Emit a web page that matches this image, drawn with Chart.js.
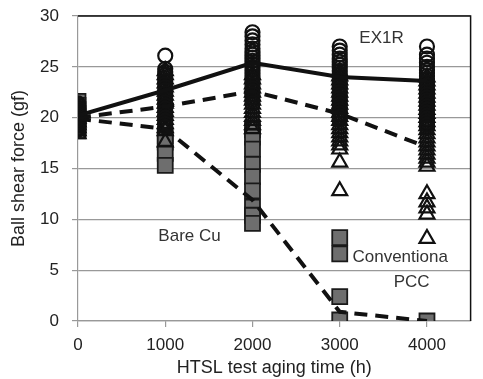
<!DOCTYPE html>
<html>
<head>
<meta charset="utf-8">
<script src="https://cdn.jsdelivr.net/npm/chart.js@4"></script>
<style>
  html, body { margin: 0; padding: 0; background: #fff; }
  .chart-container { position: relative; width: 483px; height: 379px; }
</style>
</head>
<body>
<div class="chart-container">
  <canvas id="chart"></canvas>
</div>
<script>
// aging times (h) and tick labels
const agingHours = [0, 1000, 2000, 3000, 4000];
const yTicks = [0, 5, 10, 15, 20, 25, 30];

// mean lines
const ex1rMean = [20.2, 22.7, 25.4, 24.0, 23.6];
const pccMean = [20.0, 21.1, 22.6, 20.4, 17.1];
const bareCuMean = [19.9, 18.9, 11.9, 0.9, 0];

// individual shear values, one list per aging time
const ex1rForce = [
    [21.4, 21.2, 21.0, 20.8, 20.6, 20.4, 20.2, 20.0, 19.8, 19.6, 19.4, 19.2, 19.0, 18.8],
    [26.1, 24.8, 24.5, 24.2, 23.9, 23.6, 23.3, 23.0, 22.7, 22.4, 22.1, 21.8, 21.5, 21.2, 20.9, 20.6, 20.3, 20.0, 19.7, 19.4, 19.1],
    [28.4, 28.0, 27.6, 27.2, 26.8, 26.5, 26.2, 25.9, 25.6, 25.3, 25.0, 24.7, 24.4, 24.1, 23.8, 23.5, 23.2, 22.9, 22.6, 22.3, 22.0, 21.7, 21.4],
    [27.0, 26.6, 26.2, 25.8, 25.5, 25.2, 24.9, 24.6, 24.3, 24.0, 23.7, 23.4, 23.1, 22.8, 22.5, 22.2, 21.9, 21.6, 21.3, 21.0, 20.7, 20.4, 20.1, 19.8],
    [27.0, 26.2, 25.8, 25.4, 25.0, 24.7, 24.4, 24.1, 23.8, 23.5, 23.2, 22.9, 22.6, 22.3, 22.0, 21.7, 21.4, 21.1, 20.8, 20.5, 20.2, 19.9, 19.6, 19.3, 19.0]
];
const pccForce = [
    [21.1, 20.8, 20.5, 20.2, 19.9, 19.6, 19.3, 19.0, 18.7, 18.4],
    [24.6, 24.2, 23.8, 23.4, 23.0, 22.6, 22.2, 21.8, 21.4, 21.0, 20.6, 20.2, 19.8, 19.4, 19.0, 18.7, 17.6],
    [24.2, 23.8, 23.3, 22.9, 22.5, 22.1, 21.7, 21.3, 20.9, 20.5, 20.1, 19.7, 19.3, 18.9],
    [24.5, 24.1, 23.7, 23.3, 22.9, 22.5, 22.1, 21.7, 21.3, 20.9, 20.5, 20.1, 19.7, 19.3, 18.9, 18.5, 18.1, 17.7, 17.3, 16.9, 15.6, 12.8],
    [24.0, 23.6, 23.2, 22.8, 22.4, 22.0, 21.6, 21.2, 20.8, 20.4, 20.0, 19.6, 19.2, 18.8, 18.4, 18.0, 17.6, 17.2, 16.8, 16.4, 16.0, 15.6, 15.2, 12.5, 11.7, 11.1, 10.5, 8.1]
];
const bareCuForce = [
    [21.6, 21.2, 20.8, 20.4, 20.1, 19.7, 19.3, 19.0, 18.7],
    [18.2, 17.6, 16.5, 15.3],
    [18.8, 18.1, 16.9, 15.4, 14.2, 12.8, 11.2, 10.4, 9.6],
    [8.2, 6.6, 2.4, 0.1],
    [0]
];

const FONT = '"Liberation Sans", Arial, sans-serif';

function toPoints(groups) {
    const pts = [];
    groups.forEach((vals, i) => vals.forEach(v => pts.push({ x: agingHours[i], y: v })));
    return pts;
}
function meanPoints(vals) {
    return vals.map((v, i) => ({ x: agingHours[i], y: v }));
}

// annotations placed in data units
const notes = [
    { text: 'EX1R', x: 3225, y: 27.8 },
    { text: 'Bare Cu', x: 921, y: 8.3 },
    { text: 'Conventiona', x: 3146, y: 6.3 },
    { text: 'PCC', x: 3618, y: 3.8 }
];

const framePlugin = {
    id: 'frame',
    afterDatasetsDraw(chart) {
        const { ctx, chartArea: a, scales } = chart;
        ctx.save();
        ctx.strokeStyle = '#111';
        ctx.lineWidth = 1.5;
        ctx.beginPath();
        ctx.moveTo(a.left, a.top);
        ctx.lineTo(a.right, a.top);
        ctx.lineTo(a.right, a.bottom);
        ctx.stroke();
        ctx.fillStyle = '#333';
        ctx.font = '17px ' + FONT;
        ctx.textBaseline = 'middle';
        ctx.textAlign = 'left';
        notes.forEach(n => {
            ctx.fillText(n.text, scales.x.getPixelForValue(n.x), scales.y.getPixelForValue(n.y));
        });
        ctx.restore();
    }
};

const lineStyle = {
    showLine: true,
    pointRadius: 0,
    borderColor: '#111',
    borderWidth: 4,
    fill: false
};

new Chart(document.getElementById('chart'), {
    type: 'scatter',
    data: {
        datasets: [
            { ...lineStyle, label: 'EX1R mean', data: meanPoints(ex1rMean), order: 0 },
            { ...lineStyle, label: 'PCC mean', data: meanPoints(pccMean), borderDash: [13, 8], order: 1 },
            { ...lineStyle, label: 'Bare Cu mean', data: meanPoints(bareCuMean), borderDash: [13, 8], order: 2 },
            {
                label: 'EX1R', data: toPoints(ex1rForce), order: 3,
                pointStyle: 'circle', pointRadius: 7, borderWidth: 2.2,
                borderColor: '#111', backgroundColor: 'rgba(255,255,255,0)'
            },
            {
                label: 'Conventional PCC', data: toPoints(pccForce), order: 4,
                pointStyle: 'triangle', pointRadius: 8.6, borderWidth: 2.2,
                borderColor: '#111', backgroundColor: 'rgba(255,255,255,0)'
            },
            {
                label: 'Bare Cu', data: toPoints(bareCuForce), order: 5,
                pointStyle: 'rect', pointRadius: 10.6, borderWidth: 1.8,
                borderColor: '#1a1a1a', backgroundColor: '#6e6e6e'
            }
        ]
    },
    options: {
        responsive: true,
        maintainAspectRatio: false,
        animation: false,
        events: [],
        layout: { padding: { top: 16, right: 1, left: 0, bottom: 0 } },
        plugins: {
            legend: { display: false },
            tooltip: { enabled: false }
        },
        scales: {
            x: {
                type: 'linear',
                min: 0,
                max: 4500,
                afterBuildTicks: scale => { scale.ticks = agingHours.map(v => ({ value: v })); },
                afterFit: scale => { scale.height = 58; },
                grid: { drawOnChartArea: false, drawTicks: true, tickLength: 6, color: '#999', lineWidth: 1.2 },
                border: { color: '#999', width: 1.2 },
                ticks: {
                    color: '#222', padding: 8, font: { family: FONT, size: 17 },
                    callback: v => String(v)
                },
                title: {
                    display: true,
                    text: 'HTSL test aging time (h)',
                    color: '#222',
                    padding: { top: 0, bottom: 0 },
                    font: { family: FONT, size: 18 }
                }
            },
            y: {
                min: 0,
                max: 30,
                afterBuildTicks: scale => { scale.ticks = yTicks.map(v => ({ value: v })); },
                afterFit: scale => {
                    scale.width = 78;
                    scale.paddingTop = 0;
                    scale.paddingBottom = 0;
                },
                grid: { color: '#999', lineWidth: 1.2, tickLength: 6 },
                border: { color: '#999', width: 1.2 },
                ticks: { color: '#222', padding: 13, font: { family: FONT, size: 17 } },
                title: {
                    display: true,
                    text: 'Ball shear force (gf)',
                    color: '#222',
                    padding: { top: 8, bottom: 0 },
                    font: { family: FONT, size: 18 }
                }
            }
        }
    },
    plugins: [framePlugin]
});
</script>
</body>
</html>
